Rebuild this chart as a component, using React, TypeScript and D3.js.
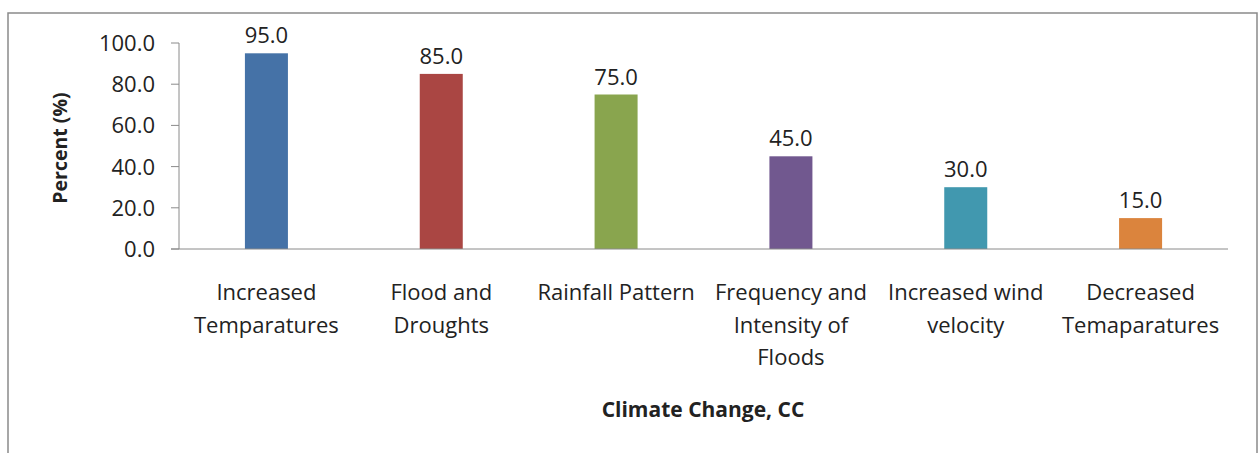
import React from "react";
import * as d3 from "d3";

const categories: string[][] = [
  ["Increased", "Temparatures"],
  ["Flood and", "Droughts"],
  ["Rainfall Pattern"],
  ["Frequency and", "Intensity of", "Floods"],
  ["Increased wind", "velocity"],
  ["Decreased", "Temaparatures"],
];
const values: number[] = [95.0, 85.0, 75.0, 45.0, 30.0, 15.0];
const colors: string[] = ["#4572A7", "#AA4643", "#89A54E", "#71588F", "#4198AF", "#DB843D"];
const yTicks: number[] = [0, 20, 40, 60, 80, 100];

const W = 1259;
const H = 453;
const left = 179;
const right = 1228;
const top = 43;
const bottom = 249;
const font = "'Open Sans', 'Noto Sans', sans-serif";

export default function App() {
  const x = d3.scaleBand<number>().domain(values.map((_, i) => i)).range([left, right]).padding(0);
  const y = d3.scaleLinear().domain([0, 100]).range([bottom, top]);
  const bw = x.bandwidth() * 0.246;
  return (
    <svg width={W} height={H} style={{ position: "absolute", left: 0, top: 0 }} fontFamily={font}>
      <rect x={0} y={0} width={W} height={H} fill="#fff" />
      <rect x={8} y={13} width={1249} height={460} fill="#fff" stroke="#8a8a8a" strokeWidth={1.5} />
      {values.map((v, i) => {
        const cx = x(i)! + x.bandwidth() / 2;
        return (
          <g key={i}>
            <rect x={cx - bw / 2} y={y(v)} width={bw} height={bottom - y(v)} fill={colors[i]} />
            <text x={cx} y={y(v) - 10} textAnchor="middle" fontSize={22} fill="#222">
              {v.toFixed(1)}
            </text>
            {categories[i].map((line, j) => (
              <text key={j} x={cx} y={300 + j * 32.5} textAnchor="middle" fontSize={22} fill="#222">
                {line}
              </text>
            ))}
          </g>
        );
      })}
      <line x1={left} x2={left} y1={top} y2={bottom} stroke="#8a8a8a" strokeWidth={1} />
      <line x1={171} x2={right} y1={bottom} y2={bottom} stroke="#8a8a8a" strokeWidth={1} />
      {yTicks.map((t) => (
        <g key={t}>
          <line x1={171} x2={left} y1={y(t)} y2={y(t)} stroke="#8a8a8a" strokeWidth={1} />
          <text x={155} y={y(t) + 8} textAnchor="end" fontSize={22} fill="#222">
            {t.toFixed(1)}
          </text>
        </g>
      ))}
      <text
        transform={`translate(67, ${(top + bottom) / 2 + 2}) rotate(-90)`}
        textAnchor="middle"
        fontSize={19.5}
        fontWeight="bold"
        fill="#222"
      >
        Percent (%)
      </text>
      <text x={703} y={417} textAnchor="middle" fontSize={21} fontWeight="bold" fill="#222">
        Climate Change, CC
      </text>
    </svg>
  );
}
